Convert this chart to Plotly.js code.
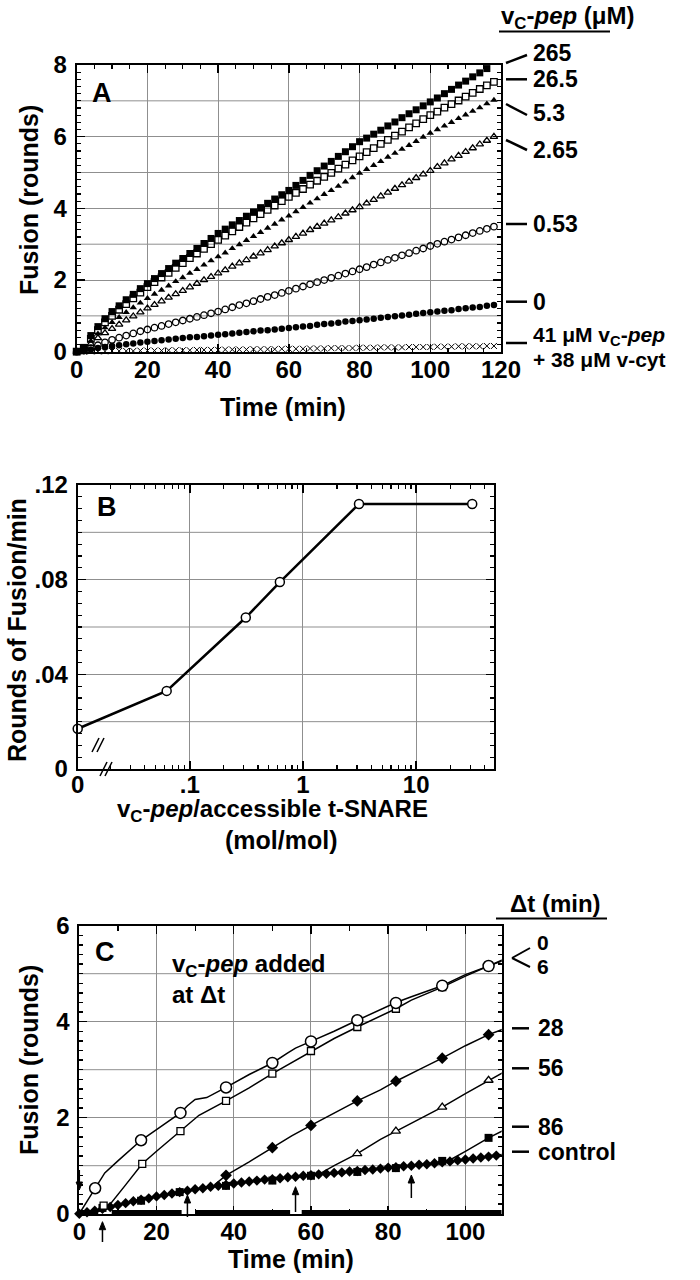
<!DOCTYPE html>
<html><head><meta charset="utf-8">
<script src="https://cdn.plot.ly/plotly-3.0.1.min.js"></script>
<style>html,body{margin:0;padding:0;background:#fff;}#chart{width:700px;height:1280px;}</style>
</head><body><div id="chart"></div>
<script>
// ---------- Panel A: fusion time courses at different vC-pep (uM) ----------
const timeA = [0,2,4,6,8,10,12,14,16,18,20,22,24,26,28,30,32,34,36,38,40,42,44,46,48,50,52,54,56,58,60,62,64,66,68,70,72,74,76,78,80,82,84,86,88,90,92,94,96,98,100,102,104,106,108,110,112,114,116,118];
const pep265 = [0.00,0.12,0.45,0.70,0.92,1.12,1.28,1.45,1.60,1.76,1.90,2.04,2.18,2.32,2.47,2.60,2.74,2.88,3.02,3.16,3.30,3.42,3.54,3.66,3.78,3.90,4.02,4.14,4.26,4.38,4.50,4.64,4.78,4.92,5.05,5.18,5.31,5.45,5.58,5.72,5.86,5.96,6.07,6.18,6.30,6.41,6.53,6.64,6.75,6.86,6.97,7.08,7.20,7.32,7.44,7.55,7.67,7.78,7.90];
const pep26_5 = [0.00,0.10,0.36,0.60,0.82,1.00,1.17,1.33,1.49,1.65,1.80,1.94,2.07,2.20,2.34,2.47,2.61,2.74,2.87,3.00,3.12,3.24,3.36,3.48,3.60,3.72,3.84,3.96,4.08,4.20,4.32,4.43,4.54,4.66,4.77,4.88,4.99,5.11,5.22,5.34,5.45,5.57,5.68,5.80,5.91,6.03,6.14,6.26,6.37,6.49,6.60,6.70,6.81,6.91,7.01,7.12,7.22,7.33,7.43,7.53];
const pep5_3 = [0.00,0.08,0.30,0.50,0.67,0.82,0.96,1.10,1.23,1.36,1.49,1.61,1.72,1.84,1.96,2.07,2.19,2.30,2.42,2.54,2.65,2.76,2.88,2.99,3.11,3.22,3.33,3.45,3.56,3.68,3.79,3.91,4.03,4.15,4.27,4.39,4.50,4.62,4.74,4.86,4.98,5.09,5.20,5.31,5.43,5.54,5.65,5.76,5.87,5.99,6.10,6.20,6.30,6.40,6.51,6.61,6.71,6.81,6.92,7.02];
const pep2_65 = [0.00,0.06,0.22,0.38,0.52,0.64,0.76,0.88,0.99,1.10,1.21,1.31,1.41,1.51,1.61,1.70,1.80,1.90,2.00,2.09,2.19,2.28,2.38,2.47,2.56,2.66,2.75,2.84,2.94,3.03,3.12,3.21,3.30,3.40,3.49,3.58,3.67,3.76,3.86,3.95,4.04,4.14,4.24,4.34,4.44,4.55,4.65,4.75,4.85,4.95,5.05,5.16,5.26,5.37,5.47,5.58,5.68,5.79,5.89,6.00];
const pep0_53 = [0.00,0.03,0.10,0.18,0.26,0.33,0.39,0.45,0.51,0.57,0.62,0.67,0.72,0.77,0.82,0.87,0.92,0.97,1.02,1.07,1.12,1.18,1.24,1.30,1.35,1.41,1.47,1.53,1.58,1.64,1.70,1.76,1.82,1.88,1.94,2.00,2.06,2.12,2.18,2.24,2.30,2.36,2.43,2.49,2.56,2.62,2.69,2.75,2.82,2.88,2.95,3.01,3.07,3.13,3.19,3.25,3.31,3.37,3.43,3.49];
const pep0 = [0.00,0.02,0.06,0.10,0.13,0.16,0.18,0.21,0.23,0.26,0.28,0.30,0.32,0.34,0.36,0.38,0.40,0.41,0.43,0.45,0.47,0.49,0.51,0.53,0.55,0.57,0.59,0.60,0.62,0.64,0.66,0.68,0.70,0.72,0.75,0.77,0.79,0.81,0.84,0.86,0.88,0.90,0.92,0.95,0.97,0.99,1.01,1.03,1.06,1.08,1.10,1.12,1.14,1.16,1.19,1.21,1.23,1.25,1.28,1.30];
const pepVcyt = [0.00,0.00,0.01,0.01,0.01,0.02,0.02,0.02,0.02,0.03,0.03,0.03,0.03,0.04,0.04,0.04,0.04,0.05,0.05,0.05,0.05,0.06,0.06,0.06,0.06,0.07,0.07,0.07,0.07,0.08,0.08,0.08,0.08,0.09,0.09,0.09,0.10,0.10,0.10,0.10,0.11,0.11,0.11,0.12,0.12,0.12,0.12,0.13,0.13,0.13,0.13,0.14,0.14,0.14,0.15,0.15,0.15,0.15,0.16,0.16];
const labelsA = ['265','26.5','5.3','2.65','0.53','0'];
const ticksA_x = [0,20,40,60,80,100,120];
const ticksA_y = [0,2,4,6,8];
const gridA_y = [1,3,5,7];

// ---------- Panel B: rate vs vC-pep / accessible t-SNARE ----------
const ratioB = [0, 0.0625, 0.3125, 0.625, 3.125, 31.25];
const rateB  = [0.017, 0.033, 0.064, 0.079, 0.112, 0.112];
const tickTextB = ['0', '.1', '1', '10'];
const ticksB_y = [0, 0.04, 0.08, 0.12];
const tickTextB_y = ['0', '.04', '.08', '.12'];
const gridB_y = [0.02, 0.06, 0.10];

// ---------- Panel C: vC-pep added at delta t ----------
const ctrlT = [0,2,4,6,8,10,12,14,16,18,20,22,24,26,28,30,32,34,36,38,40,42,44,46,48,50,52,54,56,58,60,62,64,66,68,70,72,74,76,78,80,82,84,86,88,90,92,94,96,98,100,102,104,106,108,110];
const ctrlV = [0.00,0.03,0.06,0.10,0.14,0.18,0.22,0.26,0.29,0.32,0.36,0.39,0.42,0.45,0.48,0.51,0.53,0.56,0.58,0.60,0.63,0.65,0.67,0.69,0.71,0.72,0.74,0.76,0.77,0.79,0.80,0.82,0.83,0.85,0.86,0.88,0.89,0.91,0.92,0.94,0.96,0.97,0.99,1.00,1.02,1.03,1.05,1.07,1.09,1.11,1.13,1.15,1.17,1.19,1.21,1.24];
const dt0LineT = [0,4.1,6.6,10,16,20,26.2,28,30,33,38,44,50,54,56,60,66,72,78,82,86,94,100,106,110];
const dt0LineV = [0,0.53,0.85,1.10,1.53,1.75,2.10,2.25,2.38,2.42,2.63,2.90,3.14,3.35,3.45,3.59,3.80,4.03,4.25,4.40,4.52,4.75,4.98,5.16,5.28];
const dt0MarkT = [4.1,16,26.2,38,50,60,72,82,94,106];
const dt0MarkV = [0.53,1.53,2.10,2.63,3.14,3.59,4.03,4.39,4.75,5.16];
const dt6LineT = [6,8,12,16.3,20,26.2,28,31,38,44,50,55,60,66,72,78,82,86,94,100,106,110];
const dt6LineV = [0.12,0.20,0.60,1.04,1.30,1.72,1.85,2.05,2.35,2.62,2.92,3.15,3.39,3.65,3.89,4.12,4.27,4.45,4.72,4.95,5.16,5.30];
const dt6MarkT = [6.3,16.3,26.2,38,50,60,72,82,94,106];
const dt6MarkV = [0.17,1.04,1.72,2.35,2.92,3.39,3.89,4.27,4.72,5.16];
const dt28LineT = [35,38,44,50,55,60,66,72,78,82,88,94,100,106,110];
const dt28LineV = [0.60,0.80,1.08,1.375,1.62,1.84,2.10,2.35,2.58,2.76,3.00,3.24,3.50,3.73,3.85];
const dt28MarkT = [38,50,60,72,82,94,106];
const dt28MarkV = [0.80,1.375,1.84,2.35,2.76,3.24,3.73];
const dt56LineT = [60,62,66,72,78,82,88,94,100,106,110];
const dt56LineV = [0.79,0.82,1.00,1.25,1.55,1.72,1.97,2.22,2.50,2.78,2.95];
const dt56MarkT = [72,82,94,106];
const dt56MarkV = [1.25,1.72,2.22,2.78];
const dt86LineT = [94,96,100,106,110];
const dt86LineV = [1.10,1.12,1.30,1.58,1.74];
const dt86MarkT = [6,16,26,38,50,60,72,82,94,106];
const dt86MarkV = [0.12,0.27,0.45,0.58,0.69,0.79,0.87,0.95,1.10,1.58];
const addTimes = [0, 6, 28, 56, 86];
const labelsC = ['0','6','28','56','86','control'];
const ticksC_x = [0,20,40,60,80,100];
const ticksC_y = [0,2,4,6];
const gridC_y = [1,3,5];

// ---------- helpers ----------
const W = 700, H = 1280;
const F = 'Liberation Sans, Arial, Helvetica, sans-serif';
const px = x => x / W;
const py = y => 1 - y / H;
const bold = (s, c) => ({family: F, size: s, color: c || '#000', weight: 'bold'});
const GRID = '#8f8f8f';

function axis(extra) {
  return Object.assign({
    showline: true, linecolor: '#000', linewidth: 2, mirror: 'ticks',
    ticks: 'inside', ticklen: 8, tickwidth: 1.5, tickcolor: '#000',
    showgrid: true, gridcolor: GRID, gridwidth: 1, zeroline: false,
    tickfont: bold(24), fixedrange: true
  }, extra);
}
function minor(extra) {
  return Object.assign({ticks: 'inside', ticklen: 4, tickwidth: 1.2, tickcolor: '#000', showgrid: false}, extra);
}

const bMin = -1.99, bMax = 1.69;
const bLeft = Math.pow(10, bMin);
const ratioPlot = ratioB.map(v => v === 0 ? bLeft : v);

const domC = [px(79.3), px(501.7)], rangeC = [0, 109.4];

const traces = [];
function addA(y, sym, size, lw) {
  traces.push({x: timeA.slice(0, y.length), y: y, xaxis: 'x', yaxis: 'y', mode: 'markers', type: 'scatter',
    cliponaxis: false, hoverinfo: 'skip',
    marker: {symbol: sym, size: size, color: '#000', line: {color: '#000', width: lw}}});
}
addA(pepVcyt, 'x-thin-open', 6, 1);
addA(pep0, 'circle', 6.5, 0);
addA(pep0_53, 'circle-open', 6.5, 1.3);
addA(pep2_65, 'triangle-up-open', 6.5, 1.3);
addA(pep5_3, 'triangle-up', 6.5, 0);
addA(pep26_5, 'square-open', 6.5, 1.3);
addA(pep265, 'square', 7, 0);

traces.push({x: ratioPlot, y: rateB, xaxis: 'x2', yaxis: 'y2', mode: 'lines+markers', type: 'scatter',
  cliponaxis: false, hoverinfo: 'skip', line: {color: '#000', width: 2.5},
  marker: {symbol: 'circle', size: 9, color: '#fff', line: {color: '#000', width: 1.5}}});

function addCLine(x, y) {
  traces.push({x: x, y: y, xaxis: 'x3', yaxis: 'y3', mode: 'lines', type: 'scatter', hoverinfo: 'skip',
    cliponaxis: false, line: {color: '#000', width: 1.5}});
}
function addCMark(x, y, sym, size, fill, lw) {
  traces.push({x: x, y: y, xaxis: 'x3', yaxis: 'y3', mode: 'markers', type: 'scatter', hoverinfo: 'skip',
    cliponaxis: false, marker: {symbol: sym, size: size, color: fill, line: {color: '#000', width: lw}}});
}
addCLine(ctrlT, ctrlV);
addCLine(dt0LineT, dt0LineV);
addCLine(dt6LineT, dt6LineV);
addCLine(dt28LineT, dt28LineV);
addCLine(dt56LineT, dt56LineV);
addCLine(dt86LineT, dt86LineV);
addCMark(ctrlT, ctrlV, 'diamond', 8, '#000', 0);
addCMark(dt86MarkT, dt86MarkV, 'square', 8, '#000', 0);
addCMark(dt28MarkT, dt28MarkV, 'diamond', 9, '#000', 0);
addCMark(dt56MarkT, dt56MarkV, 'triangle-up', 8, '#fff', 1.3);
addCMark(dt6MarkT, dt6MarkV, 'square', 7, '#fff', 1.3);
addCMark(dt0MarkT, dt0MarkV, 'circle', 11, '#fff', 1.5);

// ---------- annotations and shapes ----------
const ann = [];
const shapes = [];
function text(x, y, t, size, anchor, angle) {
  ann.push({xref: 'paper', yref: 'paper', x: px(x), y: py(y), text: t, showarrow: false,
    xanchor: anchor || 'left', yanchor: 'middle', font: bold(size || 24), textangle: angle || 0});
}
function seg(x0, y0, x1, y1, w) {
  shapes.push({type: 'line', xref: 'paper', yref: 'paper', x0: px(x0), y0: py(y0), x1: px(x1), y1: py(y1),
    line: {color: '#000', width: w || 2}});
}
function hgrid(vals, xa, ya) {
  vals.forEach(v => shapes.push({type: 'line', layer: 'below', xref: xa + ' domain', yref: ya,
    x0: 0, x1: 1, y0: v, y1: v, line: {color: GRID, width: 1}}));
}
hgrid(gridA_y, 'x', 'y');
hgrid(gridB_y, 'x2', 'y2');
hgrid(gridC_y, 'x3', 'y3');

// Panel A texts
text(101.7, 93, 'A', 27, 'center');
text(29, 200, 'Fusion (rounds)', 25, 'center', -90);
text(283, 407, 'Time (min)', 25, 'center');
text(499, 17, 'v<sub>C</sub>-<i>pep</i> (μM)', 24, 'left');
seg(499, 31.5, 610, 31.5, 2);
const aLabY = [52.7, 79.3, 113, 150, 224, 301.7];
const aLineY0 = [63, 79.3, 104, 140, 224, 301.7];
const aLineY1 = [55, 79.3, 115, 150, 224, 301.7];
labelsA.forEach((t, i) => {
  text(531, aLabY[i], t, 23, 'left');
  seg(506, aLineY0[i], 527, aLineY1[i], 2.5);
});
text(531, 336, '41 μM v<sub>C</sub>-<i>pep</i>', 21, 'left');
text(531, 359, '+ 38 μM v-cyt', 21, 'left');
seg(506, 343, 527, 343, 2.5);

// Panel B texts
text(107, 507, 'B', 27, 'center');
text(17, 630, 'Rounds of Fusion/min', 25, 'center', -90);
text(272, 810, 'v<sub>C</sub>-<i>pep</i>/accessible t-SNARE', 24, 'center');
text(281, 840, '(mol/mol)', 25, 'center');
// axis break marks
seg(100, 776, 107, 762, 1.5);
seg(105, 776, 112, 762, 1.5);
seg(92, 752, 99, 738, 1.5);
seg(97, 752, 104, 738, 1.5);

// Panel C texts
text(105, 952, 'C', 27, 'center');
text(170, 965, 'v<sub>C</sub>-<i>pep</i> added', 24, 'left');
text(170, 994, 'at Δt', 24, 'left');
text(29, 1060, 'Fusion (rounds)', 25, 'center', -90);
text(291, 1259, 'Time (min)', 25, 'center');
text(508, 903, 'Δt (min)', 24, 'left');
seg(496, 918.5, 607, 918.5, 2);
const cLabY = [942, 966, 1028.3, 1068.3, 1126.7, 1151.7];
labelsC.forEach((t, i) => text(i < 2 ? 535 : 536, cLabY[i], t, i < 2 ? 21 : 23, 'left'));
seg(512, 958, 530, 948, 2);
seg(512, 958, 530, 967, 2);
[1028.3, 1068.3, 1126.7, 1151.7].forEach(y => seg(512, y, 529, y, 2.5));

// arrows marking the addition times (tip / tail in px), drawn as shapes
const arrowTip = [1190, 1221.7, 1195, 1186.7, 1175];
const arrowTail = [1170, 1242, 1217, 1212, 1198];
const tToPaper = t => domC[0] + (t - rangeC[0]) / (rangeC[1] - rangeC[0]) * (domC[1] - domC[0]);
addTimes.forEach((t, i) => {
  const xp = tToPaper(t), tip = arrowTip[i], tail = arrowTail[i];
  const dir = tail > tip ? 1 : -1;
  const base = tip + dir * 8, hw = 3.2 / W;
  shapes.push({type: 'line', xref: 'paper', yref: 'paper', x0: xp, x1: xp, y0: py(tail), y1: py(base),
    line: {color: '#000', width: 1.5}});
  shapes.push({type: 'path', xref: 'paper', yref: 'paper',
    path: 'M ' + (xp - hw) + ',' + py(base) + ' L ' + xp + ',' + py(tip) + ' L ' + (xp + hw) + ',' + py(base) + ' Z',
    fillcolor: '#000', line: {color: '#000', width: 1}});
});
// thick bottom bar with gaps
[[0, 4.9], [8.4, 26.5], [30, 54.6], [57.6, 109.4]].forEach(s => {
  shapes.push({type: 'line', xref: 'x3', yref: 'paper', x0: s[0], x1: s[1], y0: py(1212.5), y1: py(1212.5),
    line: {color: '#000', width: 5}});
});

const layout = {
  width: W, height: H, margin: {l: 0, r: 0, t: 0, b: 0},
  paper_bgcolor: '#fff', plot_bgcolor: '#fff', showlegend: false,
  xaxis: axis({domain: [px(76.7), px(501)], range: [0, 120], anchor: 'y', ticklabelstandoff: -5,
    tickmode: 'array', tickvals: ticksA_x,
    minor: minor({tickmode: 'linear', tick0: 0, dtick: 5})}),
  yaxis: axis({domain: [py(351.7), py(65)], range: [0, 8], anchor: 'x', ticklabelstandoff: 3,
    tickmode: 'array', tickvals: ticksA_y,
    minor: minor({tickmode: 'linear', tick0: 0, dtick: 0.2})}),
  xaxis2: axis({type: 'log', domain: [px(77.7), px(494.3)], range: [bMin, bMax], anchor: 'y2', ticklabelstandoff: -7,
    tickmode: 'array', tickvals: [bLeft, 0.1, 1, 10], ticktext: tickTextB,
    minor: minor({tickmode: 'array', tickvals: [0.02,0.03,0.04,0.05,0.06,0.07,0.08,0.09,0.2,0.3,0.4,0.5,0.6,0.7,0.8,0.9,2,3,4,5,6,7,8,9,20,30,40]})}),
  yaxis2: axis({domain: [py(769), py(485)], range: [0, 0.12], anchor: 'x2', ticklabelstandoff: 3,
    tickmode: 'array', tickvals: ticksB_y, ticktext: tickTextB_y,
    minor: minor({tickmode: 'linear', tick0: 0, dtick: 0.005})}),
  xaxis3: axis({domain: domC, range: rangeC, anchor: 'y3', ticklabelstandoff: -5,
    tickmode: 'array', tickvals: ticksC_x,
    minor: minor({tickmode: 'linear', tick0: 0, dtick: 10, ticklen: 5})}),
  yaxis3: axis({domain: [py(1213.7), py(925.7)], range: [0, 6], anchor: 'x3', ticklabelstandoff: 3,
    tickmode: 'array', tickvals: ticksC_y,
    minor: minor({tickmode: 'linear', tick0: 0, dtick: 0.2})}),
  annotations: ann,
  shapes: shapes
};

Plotly.newPlot('chart', traces, layout, {displayModeBar: false, staticPlot: true});
</script>
</body></html>
